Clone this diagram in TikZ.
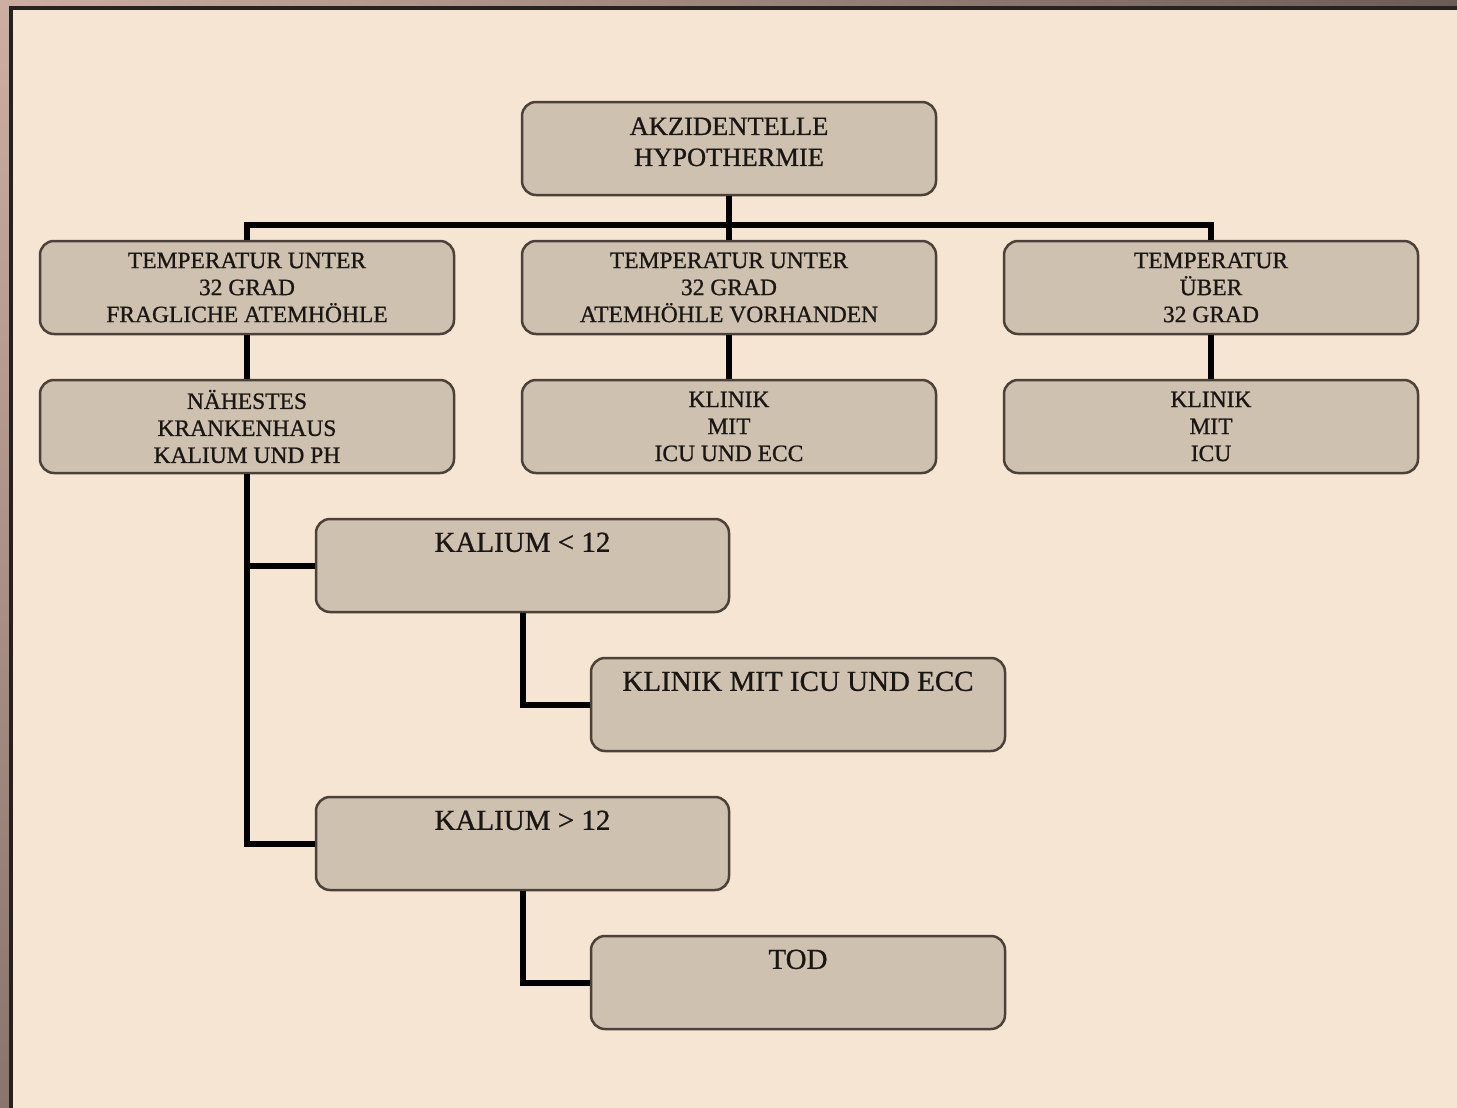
\documentclass[tikz,border=0pt]{standalone}
\usepackage{fontspec}
\setmainfont[FakeBold=0.8]{Liberation Serif}
\definecolor{bg}{HTML}{F5E5D2}
\definecolor{boxfill}{HTML}{CEC1B0}
\definecolor{boxline}{HTML}{4B4139}
\definecolor{txt}{HTML}{1A1613}
\definecolor{framedark}{HTML}{262220}
\definecolor{stripA}{HTML}{CDAEA2}
\definecolor{stripB}{HTML}{9A8078}
\definecolor{stripC}{HTML}{6C5C56}
\definecolor{stripD}{HTML}{8A746D}
\tikzset{
  box/.style={draw=boxline, line width=2.5pt, fill=boxfill, rounded corners=14pt,
    minimum width=414pt, minimum height=93pt, inner sep=0pt, align=center, text=txt},
  rowtxt/.style={font=\fontsize{23.5}{27}\selectfont},
  toptxt/.style={font=\fontsize{26.5}{31}\selectfont},
  lowtxt/.style={font=\fontsize{29}{34}\selectfont},
  conn/.style={line width=6pt, draw=black}
}
\begin{document}
\begin{tikzpicture}[x=1pt, y=-1pt]
\useasboundingbox (0,0) rectangle (1457,1108);
% frame
\shade[left color=stripA, middle color=stripB, right color=stripC] (0,0) rectangle (1457,6);
\shade[top color=stripA, bottom color=stripD] (0,0) rectangle (9,1108);
\fill[bg] (13,10) rectangle (1457,1108);
\fill[framedark] (9,6) rectangle (1457,10);
\fill[framedark] (9,6) rectangle (13,1108);

% nodes
\node[box, toptxt] (top) at (729,148.5) {AKZIDENTELLE\\HYPOTHERMIE\rule[-13.5pt]{0pt}{0pt}};
\node[box, rowtxt] (t1) at (247,287.5) {TEMPERATUR UNTER\\32 GRAD\\FRAGLICHE ATEMHÖHLE};
\node[box, rowtxt] (t2) at (729,287.5) {TEMPERATUR UNTER\\32 GRAD\\ATEMHÖHLE VORHANDEN};
\node[box, rowtxt] (t3) at (1211,287.5) {TEMPERATUR\\ÜBER\\32 GRAD};
\node[box, rowtxt] (n1) at (247,426.5) {NÄHESTES\\KRANKENHAUS\\KALIUM UND PH};
\node[box, rowtxt] (n2) at (729,426.5) {KLINIK\\MIT\\ICU UND ECC};
\node[box, rowtxt] (n3) at (1211,426.5) {KLINIK\\MIT\\ICU};
\node[box, lowtxt, minimum width=413pt] (k1) at (522.5,565.5) {KALIUM < 12\rule[-46.5pt]{0pt}{0pt}};
\node[box, lowtxt] (e1) at (798,704.5) {KLINIK MIT ICU UND ECC\rule[-46.5pt]{0pt}{0pt}};
\node[box, lowtxt, minimum width=413pt] (k2) at (522.5,843.5) {KALIUM > 12\rule[-46.5pt]{0pt}{0pt}};
\node[box, lowtxt] (e2) at (798,982.5) {TOD\rule[-46.5pt]{0pt}{0pt}};

% connectors
\coordinate (bus) at (729,224.5);
\draw[conn] (top.south) -- (t2.north);
\draw[conn] (t1.north) -- (t1.north |- bus) -| (t3.north);
\draw[conn] (t1.south) -- (n1.north);
\draw[conn] (t2.south) -- (n2.north);
\draw[conn] (t3.south) -- (n3.north);
\draw[conn] (n1.south) -- (n1.south |- k2.west) -- (k2.west);
\draw[conn] (n1.south |- k1.west) -- (k1.west);
\draw[conn] (k1.south) |- (e1.west);
\draw[conn] (k2.south) |- (e2.west);
\end{tikzpicture}
\end{document}
